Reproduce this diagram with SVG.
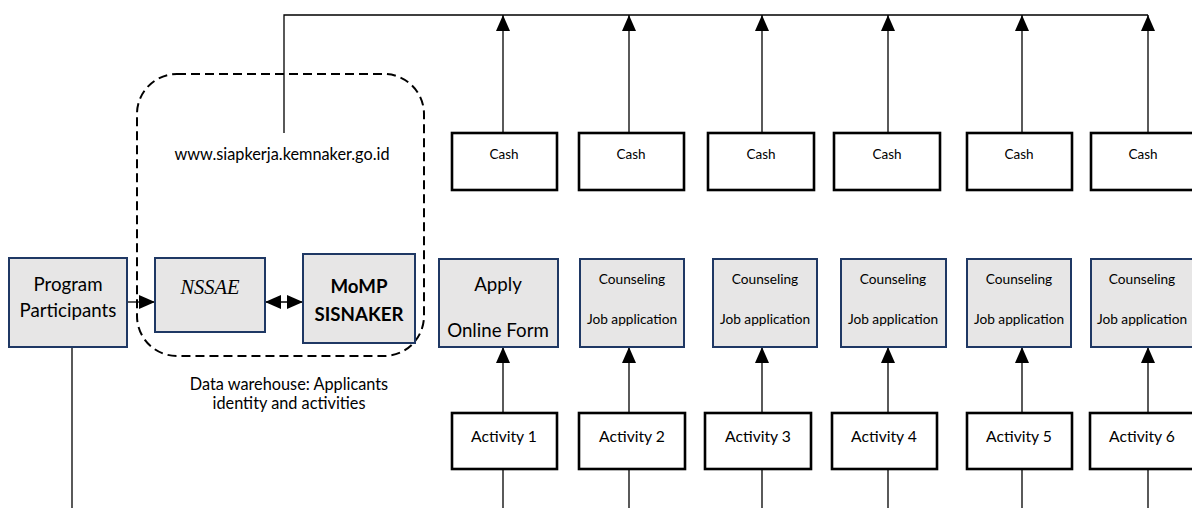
<svg xmlns="http://www.w3.org/2000/svg" width="1192" height="508" viewBox="0 0 1192 508">
<style>
.g{fill:#e7e6e6;stroke:#1f3864;stroke-width:2}
.w{fill:#fff;stroke:#000;stroke-width:2.6}
.ln{fill:none;stroke:#000;stroke-width:1.3}
.t{font-family:Lato,"Open Sans",sans-serif;fill:#000;text-anchor:middle}
.cash{font-size:13.5px}
.cj{font-size:13.7px}
.act{font-size:15.7px}
.web{font-size:16.3px}
.big{font-size:18.7px}
</style>
<defs>
<marker id="ah" markerUnits="userSpaceOnUse" markerWidth="16" markerHeight="14" refX="16" refY="7" orient="auto-start-reverse" viewBox="0 0 16 14">
<path d="M0,0 L16,7 L0,14 z" fill="#000"/>
</marker>
</defs>
<rect width="1192" height="508" fill="#fff"/>
<g id="connectors">
<polyline class="ln" points="284,133 284,15 1148,15"/>
<line class="ln" x1="503" y1="133" x2="503" y2="15" marker-end="url(#ah)"/>
<line class="ln" x1="629" y1="133" x2="629" y2="15" marker-end="url(#ah)"/>
<line class="ln" x1="762" y1="133" x2="762" y2="15" marker-end="url(#ah)"/>
<line class="ln" x1="888" y1="133" x2="888" y2="15" marker-end="url(#ah)"/>
<line class="ln" x1="1022" y1="133" x2="1022" y2="15" marker-end="url(#ah)"/>
<line class="ln" x1="1148" y1="133" x2="1148" y2="15" marker-end="url(#ah)"/>
<line class="ln" x1="503" y1="413" x2="503" y2="347" marker-end="url(#ah)"/>
<line class="ln" x1="629" y1="413" x2="629" y2="347" marker-end="url(#ah)"/>
<line class="ln" x1="762" y1="413" x2="762" y2="347" marker-end="url(#ah)"/>
<line class="ln" x1="888" y1="413" x2="888" y2="347" marker-end="url(#ah)"/>
<line class="ln" x1="1022" y1="413" x2="1022" y2="347" marker-end="url(#ah)"/>
<line class="ln" x1="1148" y1="413" x2="1148" y2="347" marker-end="url(#ah)"/>
<line class="ln" x1="503" y1="469" x2="503" y2="508"/>
<line class="ln" x1="629" y1="469" x2="629" y2="508"/>
<line class="ln" x1="762" y1="469" x2="762" y2="508"/>
<line class="ln" x1="888" y1="469" x2="888" y2="508"/>
<line class="ln" x1="1022" y1="469" x2="1022" y2="508"/>
<line class="ln" x1="1148" y1="469" x2="1148" y2="508"/>
<line class="ln" x1="72" y1="347" x2="72" y2="508"/>
<line class="ln" x1="127" y1="302" x2="155" y2="302" marker-end="url(#ah)"/>
<line class="ln" x1="265" y1="302" x2="303" y2="302" marker-start="url(#ah)" marker-end="url(#ah)"/>
</g>
<g id="website">
<rect x="137" y="74" width="287" height="282" rx="40" ry="40" fill="none" stroke="#000" stroke-width="2" stroke-dasharray="9,5"/>
<text class="t web" x="282" y="160">www.siapkerja.kemnaker.go.id</text>
<text class="t web" x="289" y="390">Data warehouse: Applicants</text>
<text class="t web" x="289" y="409">identity and activities</text>
</g>
<g id="program-participants">
<rect class="g" x="9" y="258" width="118" height="89"/>
<text class="t big" x="68" y="291">Program</text>
<text class="t big" x="68" y="317">Participants</text>
</g>
<g id="nssae">
<rect class="g" x="155" y="258" width="110" height="74"/>
<text x="210" y="294" font-family="'Liberation Serif',serif" font-style="italic" font-size="20.5" text-anchor="middle">NSSAE</text>
</g>
<g id="momp">
<rect class="g" x="303" y="254" width="112" height="89"/>
<text class="t big" x="359" y="293" font-weight="bold">MoMP</text>
<text class="t big" x="359" y="321" font-weight="bold">SISNAKER</text>
</g>
<g id="cash-1"><rect class="w" x="452" y="133" width="105" height="57"/><text class="t cash" x="504" y="159">Cash</text></g>
<g id="cash-2"><rect class="w" x="579" y="133" width="105" height="57"/><text class="t cash" x="631" y="159">Cash</text></g>
<g id="cash-3"><rect class="w" x="708" y="133" width="106" height="57"/><text class="t cash" x="761" y="159">Cash</text></g>
<g id="cash-4"><rect class="w" x="834" y="133" width="106" height="57"/><text class="t cash" x="887" y="159">Cash</text></g>
<g id="cash-5"><rect class="w" x="967" y="133" width="105" height="57"/><text class="t cash" x="1019" y="159">Cash</text></g>
<g id="cash-6"><rect class="w" x="1091" y="133" width="105" height="57"/><text class="t cash" x="1143" y="159">Cash</text></g>
<g id="apply"><rect class="g" x="439" y="259" width="119" height="88"/><text class="t big" x="498" y="291">Apply</text><text class="t big" x="498" y="337">Online Form</text></g>
<g id="service-2"><rect class="g" x="580" y="259" width="104" height="88"/><text class="t cj" x="632" y="284">Counseling</text><text class="t cj" x="632" y="324">Job application</text></g>
<g id="service-3"><rect class="g" x="713" y="259" width="104" height="88"/><text class="t cj" x="765" y="284">Counseling</text><text class="t cj" x="765" y="324">Job application</text></g>
<g id="service-4"><rect class="g" x="841" y="259" width="105" height="88"/><text class="t cj" x="893" y="284">Counseling</text><text class="t cj" x="893" y="324">Job application</text></g>
<g id="service-5"><rect class="g" x="967" y="259" width="104" height="88"/><text class="t cj" x="1019" y="284">Counseling</text><text class="t cj" x="1019" y="324">Job application</text></g>
<g id="service-6"><rect class="g" x="1091" y="259" width="104" height="88"/><text class="t cj" x="1142" y="284">Counseling</text><text class="t cj" x="1142" y="324">Job application</text></g>
<g id="activity-1"><rect class="w" x="452" y="413" width="105" height="56"/><text class="t act" x="504" y="442">Activity 1</text></g>
<g id="activity-2"><rect class="w" x="579" y="413" width="106" height="56"/><text class="t act" x="632" y="442">Activity 2</text></g>
<g id="activity-3"><rect class="w" x="705" y="413" width="106" height="56"/><text class="t act" x="758" y="442">Activity 3</text></g>
<g id="activity-4"><rect class="w" x="832" y="413" width="105" height="56"/><text class="t act" x="884" y="442">Activity 4</text></g>
<g id="activity-5"><rect class="w" x="967" y="413" width="105" height="56"/><text class="t act" x="1019" y="442">Activity 5</text></g>
<g id="activity-6"><rect class="w" x="1090" y="413" width="105" height="56"/><text class="t act" x="1142" y="442">Activity 6</text></g>
</svg>
